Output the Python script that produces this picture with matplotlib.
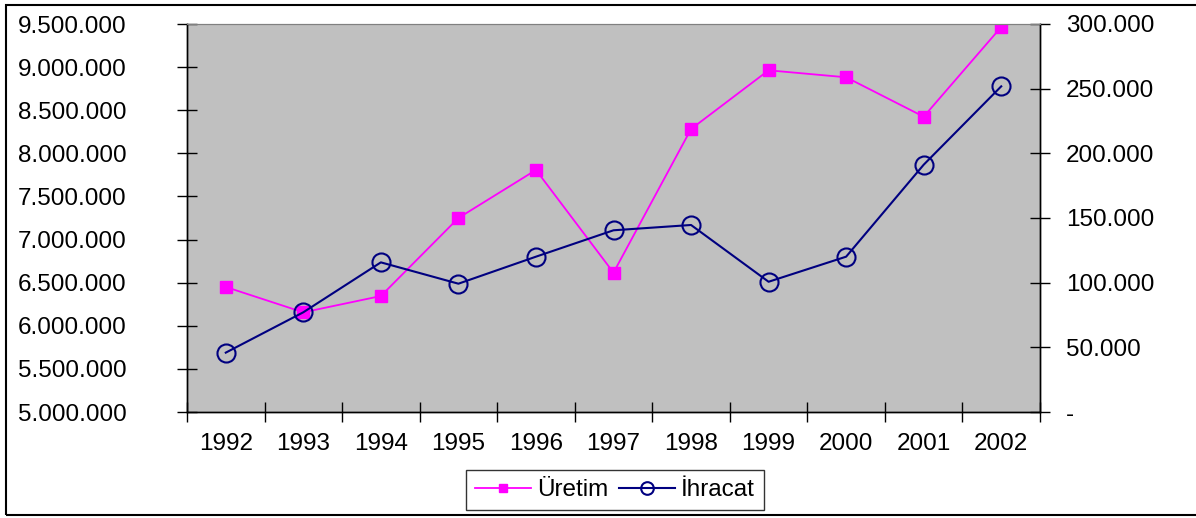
import matplotlib
matplotlib.use("Agg")
import matplotlib.pyplot as plt
from matplotlib.ticker import FuncFormatter, MultipleLocator
from matplotlib.patches import Rectangle

plt.rcParams['font.family'] = ['Liberation Sans', 'DejaVu Sans']

# data
years = ['1992', '1993', '1994', '1995', '1996', '1997', '1998', '1999', '2000', '2001', '2002']
uretim = [6450000, 6156000, 6345000, 7250000, 7807000, 6616000, 8282000, 8963000, 8882000, 8425000, 9465000]
ihracat = [45900, 77100, 115700, 99200, 120100, 140500, 144600, 100700, 120100, 191200, 251800]


def dotted(v, pos):
    return f"{int(round(v)):,}".replace(",", ".")


def dotted_right(v, pos):
    if abs(v) < 1:
        return "-"
    return f"{int(round(v)):,}".replace(",", ".")


fig = plt.figure(figsize=(11.96, 5.18), dpi=100)
ax = fig.add_axes([187 / 1196, 1 - 412 / 518, (1040 - 187) / 1196, (412 - 24) / 518])
ax2 = ax.twinx()

ax.set_facecolor('#C0C0C0')
x = list(range(len(years)))

l1, = ax.plot(x, uretim, color='#FF00FF', lw=1.3, marker='s', markersize=8,
              markerfacecolor='#FF00FF', markeredgecolor='#FF00FF', label='Üretim')
l2, = ax2.plot(x, ihracat, color='#000080', lw=1.5, marker='o', markersize=13,
               markerfacecolor='none', markeredgecolor='#000080', markeredgewidth=1.5,
               label='İhracat')

ax.set_xlim(-0.5, len(years) - 0.5)
ax.set_ylim(5000000, 9500000)
ax2.set_ylim(0, 300000)
ax.yaxis.set_major_locator(MultipleLocator(500000))
ax2.yaxis.set_major_locator(MultipleLocator(50000))
ax.yaxis.set_major_formatter(FuncFormatter(dotted))
ax2.yaxis.set_major_formatter(FuncFormatter(dotted_right))

# category labels centred, ticks on the boundaries
ax.set_xticks([i - 0.5 for i in range(len(years) + 1)])
ax.set_xticklabels([])
ax.set_xticks(x, minor=True)
ax.set_xticklabels(years, minor=True)
ax.tick_params(axis='x', which='minor', length=0, labelsize=17.5, pad=15)
ax.tick_params(axis='x', which='major', direction='inout', length=15, width=1)

ax.tick_params(axis='y', direction='inout', length=15, width=1, labelsize=17.5, pad=36)
ax2.tick_params(axis='y', direction='inout', length=15, width=1, labelsize=17.5, pad=11)

for a in (ax, ax2):
    a.spines['top'].set_color('#808080')
    for s in ('left', 'right', 'bottom'):
        a.spines[s].set_color('black')
        a.spines[s].set_linewidth(1)

leg = fig.legend(handles=[l1, l2], loc='center', bbox_to_anchor=(615 / 1196, 1 - 490 / 518),
                 ncol=2, fontsize=17.5, frameon=True, fancybox=False, edgecolor='black',
                 handlelength=2.3, handletextpad=0.25, columnspacing=0.45, borderpad=0.35,
                 markerscale=0.7)
leg.get_frame().set_linewidth(1)

fig.add_artist(Rectangle((6 / 1196, 1 - 515 / 518), 1.1, (515 - 5) / 518,
                         transform=fig.transFigure, fill=False, edgecolor='black', lw=1.5))

fig.savefig('out.png', dpi=100)
